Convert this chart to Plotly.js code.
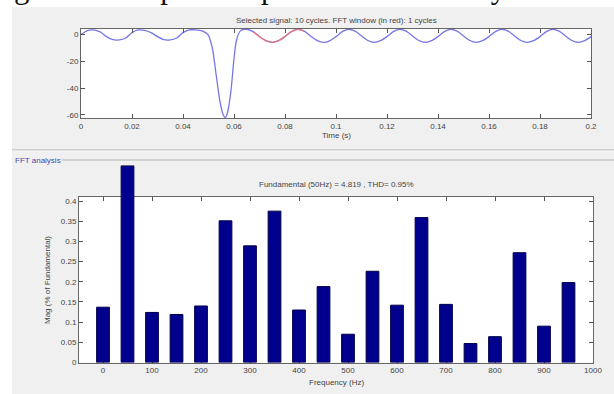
<!DOCTYPE html>
<html>
<head>
<meta charset="utf-8">
<script src="https://cdn.plot.ly/plotly-3.0.1.min.js"></script>
<style>html,body{margin:0;padding:0;background:#fff;}#chart{width:614px;height:394px;}</style>
</head>
<body>
<div id="chart"></div>
<script>
// ---- Top panel: selected signal (time in s, value) ----
var timeS = [0, 0.0025, 0.005, 0.0075, 0.01, 0.0125, 0.015, 0.0175, 0.02, 0.0225, 0.025, 0.0275,
  0.03, 0.0325, 0.035, 0.0375, 0.04, 0.0425, 0.045, 0.0475, 0.0498, 0.0515, 0.053, 0.0545, 0.0558,
  0.0566, 0.0575, 0.0588, 0.06, 0.061, 0.0625, 0.065, 0.0675, 0.07, 0.0725, 0.075, 0.0775, 0.08,
  0.0825, 0.085, 0.0875, 0.09, 0.0925, 0.095, 0.0975, 0.1, 0.1025, 0.105, 0.1075, 0.11, 0.1125,
  0.115, 0.1175, 0.12, 0.1225, 0.125, 0.1275, 0.13, 0.1325, 0.135, 0.1375, 0.14, 0.1425, 0.145,
  0.1475, 0.15, 0.1525, 0.155, 0.1575, 0.16, 0.1625, 0.165, 0.1675, 0.17, 0.1725, 0.175, 0.1775,
  0.18, 0.1825, 0.185, 0.1875, 0.19, 0.1925, 0.195, 0.1975, 0.2];
var signal = [0, 3, 3.5, 2, -1.5, -3.8, -4, -2.5, 1.5, 3.5, 3.2, 1.5,
  -1.5, -3.8, -4, -2.5, 1.5, 3.5, 3.5, 2.8, 0, -10, -30, -50, -60,
  -62, -58, -42, -18, -4, 2.8, 4, 2.2, -1.5, -4.5, -5.8, -4.5, -1.5,
  2.2, 4, 2.6, -1, -4.3, -5.8, -4.6, -1.5, 2.2, 4, 2.6, -1, -4.4,
  -5.8, -4.5, -1.5, 2.2, 4, 2.6, -1, -4.4, -5.8, -4.5, -1.5, 2.2, 4,
  2.6, -1, -4.4, -5.8, -4.5, -1.5, 2.2, 4, 2.6, -1, -4.4, -5.8, -4.5,
  -1.5, 2.2, 4, 2.6, -1, -4.4, -5.8, -4.5, -1.5];
var fftWindowStart = 0.0675, fftWindowEnd = 0.0875;
var timeTicks = [0, 0.02, 0.04, 0.06, 0.08, 0.1, 0.12, 0.14, 0.16, 0.18, 0.2];
var timeTickText = ['0', '0.02', '0.04', '0.06', '0.08', '0.1', '0.12', '0.14', '0.16', '0.18', '0.2'];
var signalTicks = [-60, -40, -20, 0];
var signalTickText = ['-60', '-40', '-20', '0'];

// ---- Bottom panel: FFT harmonics ----
var freqHz = [0, 50, 100, 150, 200, 250, 300, 350, 400, 450, 500, 550, 600, 650, 700, 750, 800, 850, 900, 950];
var magPct = [0.137, 0.487, 0.124, 0.119, 0.140, 0.351, 0.289, 0.375, 0.130, 0.188, 0.070, 0.226,
  0.142, 0.359, 0.144, 0.047, 0.064, 0.272, 0.090, 0.198];
var freqTicks = [0, 100, 200, 300, 400, 500, 600, 700, 800, 900, 1000];
var magTicks = [0, 0.05, 0.1, 0.15, 0.2, 0.25, 0.3, 0.35, 0.4];
var magTickText = ['0', '0.05', '0.1', '0.15', '0.2', '0.25', '0.3', '0.35', '0.4'];

var winT = [], winV = [];
for (var i = 0; i < timeS.length; i++) {
  if (timeS[i] >= fftWindowStart && timeS[i] <= fftWindowEnd) { winT.push(timeS[i]); winV.push(signal[i]); }
}

var W = 614, H = 394;
function px(x) { return x / W; }
function py(y) { return 1 - y / H; }

// geometry of the FFT axes (pixels from top); bars drawn on a taller twin axis with the same scale
var fftTop = 197, fftBottom = 362.5, fftMax = 0.41, barAreaTop = 150;
var barAxisMax = fftMax * (fftBottom - barAreaTop) / (fftBottom - fftTop);

var traces = [
  {x: timeS, y: signal, type: 'scatter', mode: 'lines', line: {color: '#7676e6', width: 1.3, shape: 'spline', smoothing: 0.8}, xaxis: 'x', yaxis: 'y', hoverinfo: 'skip'},
  {x: winT, y: winV, type: 'scatter', mode: 'lines', line: {color: '#e57878', width: 1.3, shape: 'spline', smoothing: 0.8}, xaxis: 'x', yaxis: 'y', hoverinfo: 'skip'},
  {x: [], y: [], type: 'scatter', mode: 'lines', xaxis: 'x2', yaxis: 'y2', hoverinfo: 'skip'},
  {x: freqHz, y: magPct, type: 'bar', width: 26, marker: {color: '#00008c', line: {color: '#00004a', width: 1}}, xaxis: 'x2', yaxis: 'y3'}
];

var axisCommon = {ticks: 'inside', ticklen: 4, tickcolor: '#555', showline: true, mirror: 'ticks', linecolor: '#666', linewidth: 1,
  showgrid: false, zeroline: false, tickfont: {size: 8, color: '#444'}, fixedrange: true};

function ax(extra) { var o = {}; for (var k in axisCommon) o[k] = axisCommon[k]; for (var k2 in extra) o[k2] = extra[k2]; return o; }

var annFont = {family: 'Liberation Sans, Arial, sans-serif', size: 8, color: '#444'};
var layout = {
  width: W, height: H, margin: {l: 0, r: 0, t: 0, b: 0}, paper_bgcolor: '#f0f0f0', plot_bgcolor: 'rgba(0,0,0,0)',
  showlegend: false, bargap: 0,
  font: {family: 'Liberation Sans, Arial, sans-serif', size: 8, color: '#444'},
  xaxis: ax({domain: [px(81), px(591)], range: [0, 0.2], tickvals: timeTicks, ticktext: timeTickText, anchor: 'y'}),
  yaxis: ax({domain: [py(118), py(29)], range: [-62.3, 4.2], tickvals: signalTicks, ticktext: signalTickText, anchor: 'x'}),
  xaxis2: ax({domain: [px(79), px(593)], range: [-49, 1000], tickvals: freqTicks, anchor: 'y2'}),
  yaxis2: ax({domain: [py(fftBottom), py(fftTop)], range: [0, fftMax], tickvals: magTicks, ticktext: magTickText, anchor: 'x2'}),
  yaxis3: {domain: [py(fftBottom), py(barAreaTop)], range: [0, barAxisMax], visible: false, anchor: 'x2', fixedrange: true, showgrid: false, zeroline: false},
  shapes: [
    {type: 'rect', xref: 'paper', yref: 'paper', x0: 0, x1: px(12), y0: 0, y1: 1, fillcolor: '#ffffff', line: {width: 0}, layer: 'below'},
    {type: 'rect', xref: 'paper', yref: 'paper', x0: 0, x1: 1, y0: py(7), y1: 1, fillcolor: '#ffffff', line: {width: 0}, layer: 'below'},
    {type: 'rect', xref: 'paper', yref: 'paper', x0: px(81), x1: px(591), y0: py(118), y1: py(29), fillcolor: '#ffffff', line: {width: 0}, layer: 'below'},
    {type: 'rect', xref: 'paper', yref: 'paper', x0: px(79), x1: px(593), y0: py(fftBottom), y1: py(fftTop), fillcolor: '#ffffff', line: {width: 0}, layer: 'below'},
    {type: 'line', xref: 'paper', yref: 'paper', x0: px(12), x1: 1, y0: py(150), y1: py(150), line: {color: '#a9a9a9', width: 1}},
    {type: 'line', xref: 'paper', yref: 'paper', x0: px(12), x1: 1, y0: py(151), y1: py(151), line: {color: '#fafafa', width: 1}},
    {type: 'line', xref: 'paper', yref: 'paper', x0: px(62), x1: 1, y0: py(160), y1: py(160), line: {color: '#b0b0b0', width: 1}}
  ],
  annotations: [
    {text: 'gnal to compensate power factor of ally.', xref: 'paper', yref: 'paper', x: px(12), y: py(7), xanchor: 'left', yanchor: 'bottom', showarrow: false,
      font: {family: 'Liberation Serif, Times New Roman, serif', size: 31, color: '#111'}},
    {text: 'Selected signal: 10 cycles. FFT window (in red): 1 cycles', xref: 'paper', yref: 'paper', x: px(336), y: py(21), xanchor: 'center', yanchor: 'middle', showarrow: false, font: annFont},
    {text: 'Time (s)', xref: 'paper', yref: 'paper', x: px(336), y: py(135), xanchor: 'center', yanchor: 'middle', showarrow: false, font: annFont},
    {text: 'FFT analysis', xref: 'paper', yref: 'paper', x: px(13), y: py(160), xanchor: 'left', yanchor: 'middle', showarrow: false,
      font: {family: 'Liberation Sans, Arial, sans-serif', size: 8, color: '#4848a8'}},
    {text: 'Fundamental (50Hz) = 4.819 , THD= 0.95%', xref: 'paper', yref: 'paper', x: px(336), y: py(184), xanchor: 'center', yanchor: 'middle', showarrow: false, font: annFont},
    {text: 'Frequency (Hz)', xref: 'paper', yref: 'paper', x: px(336), y: py(382), xanchor: 'center', yanchor: 'middle', showarrow: false, font: annFont},
    {text: 'Mag (% of Fundamental)', xref: 'paper', yref: 'paper', x: px(47), y: py(280), xanchor: 'center', yanchor: 'middle', textangle: -90, showarrow: false, font: annFont}
  ]
};

Plotly.newPlot('chart', traces, layout, {staticPlot: true, displayModeBar: false});
</script>
</body>
</html>
